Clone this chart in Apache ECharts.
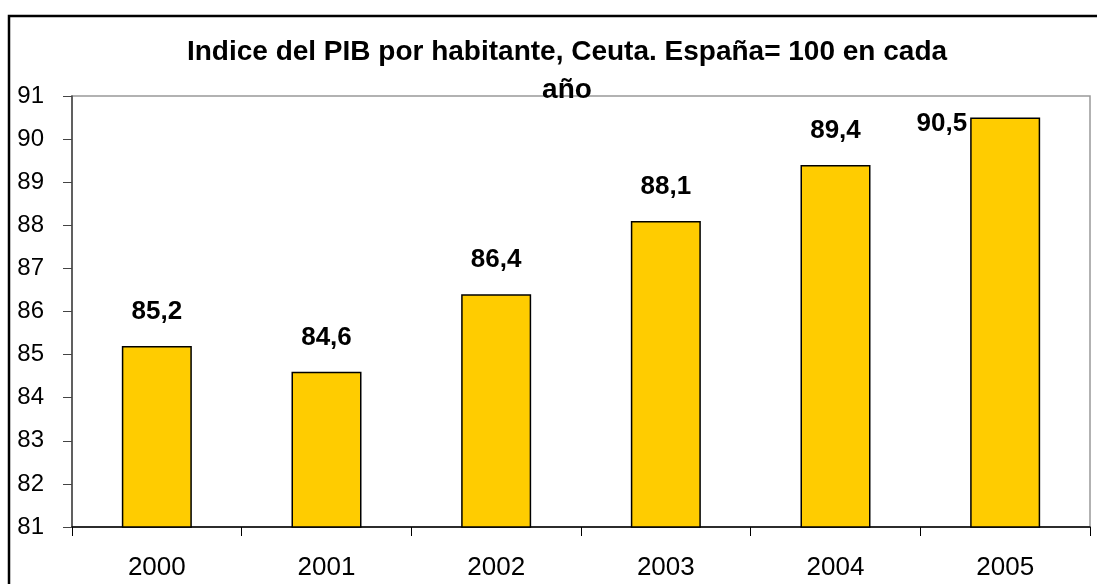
<!DOCTYPE html>
<html>
<head>
<meta charset="utf-8">
<script src="https://cdn.jsdelivr.net/npm/echarts@6/dist/echarts.min.js"></script>
<style>
html, body { margin: 0; padding: 0; background: #fff; }
#chart { width: 1097px; height: 584px; }
</style>
</head>
<body>
<div id="chart"></div>
<script>
// 데이터
var years = ['2000', '2001', '2002', '2003', '2004', '2005'];
var values = [85.2, 84.6, 86.4, 88.1, 89.4, 90.5];
var titleText = 'Indice del PIB por habitante, Ceuta. España= 100 en cada\naño';

var chart = echarts.init(document.getElementById('chart'));

var fontFamily = 'Arial, "Liberation Sans", sans-serif';

// 마지막 막대는 라벨이 그래프 밖으로 나가므로 왼쪽에 표시
var barData = values.map(function (v, i) {
	var item = { value: v };
	if (i === values.length - 1) {
		item.label = {
			position: [-3, 6],
			align: 'right',
			verticalAlign: 'middle'
		};
	}
	return item;
});

var option = {
	animation: false,
	backgroundColor: '#fff',
	title: {
		text: titleText,
		left: 562,
		top: 28,
		textAlign: 'center',
		textStyle: {
			fontFamily: fontFamily,
			fontSize: 28,
			fontWeight: 'bold',
			color: '#000',
			lineHeight: 38
		}
	},
	graphic: [{
		type: 'rect',
		shape: { x: 9, y: 16, width: 1200, height: 700 },
		style: { fill: 'none', stroke: '#000', lineWidth: 2.5 },
		silent: true,
		z: 100
	}],
	grid: {
		left: 72,
		right: 7,
		top: 96,
		bottom: 57,
		show: true,
		borderColor: '#999',
		borderWidth: 1.5,
		backgroundColor: 'transparent'
	},
	xAxis: {
		type: 'category',
		data: years,
		axisLine: { lineStyle: { color: '#000', width: 1.5 } },
		axisTick: { show: true, length: 9, alignWithLabel: false, lineStyle: { color: '#000' } },
		axisLabel: {
			margin: 28,
			fontFamily: fontFamily,
			fontSize: 26,
			color: '#000'
		}
	},
	yAxis: {
		type: 'value',
		min: 81,
		max: 91,
		interval: 1,
		axisLine: { show: true, lineStyle: { color: '#444', width: 1.5 } },
		axisTick: { show: true, length: 9, lineStyle: { color: '#444' } },
		splitLine: { show: false },
		axisLabel: {
			margin: 28,
			fontFamily: fontFamily,
			fontSize: 24,
			color: '#000'
		}
	},
	series: [{
		type: 'bar',
		data: barData,
		barWidth: 70,
		itemStyle: {
			color: '#FFCC00',
			borderColor: '#000',
			borderWidth: 1.5
		},
		label: {
			show: true,
			position: 'top',
			distance: 21,
			fontFamily: fontFamily,
			fontSize: 26,
			fontWeight: 'bold',
			color: '#000',
			formatter: function (p) {
				return String(p.value).replace('.', ',');
			}
		}
	}]
};

chart.setOption(option);
</script>
</body>
</html>
